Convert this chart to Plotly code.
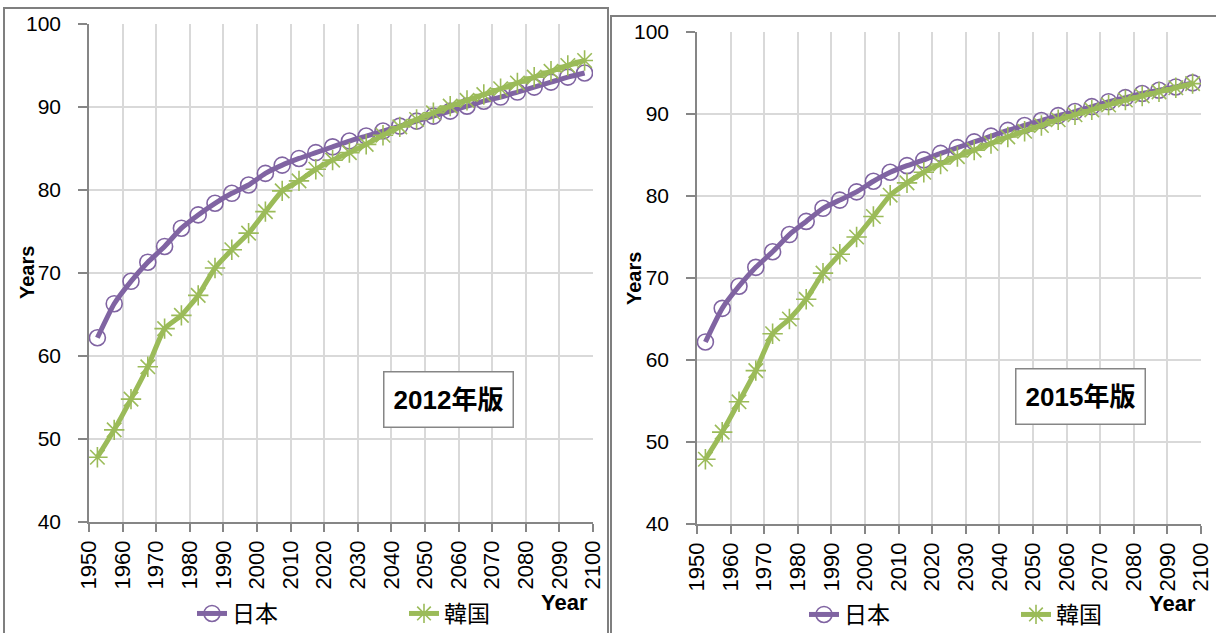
import plotly.graph_objects as go

# Five-year period midpoints, 1950-55 through 2095-2100
years = [1952.5 + 5 * i for i in range(30)]

# Life expectancy at birth (years), 2012 revision
japan_2012 = [62.2, 66.3, 69.0, 71.3, 73.2, 75.4, 77.0, 78.4, 79.6, 80.6,
              82.0, 83.0, 83.8, 84.5, 85.2, 85.9, 86.5, 87.1, 87.7, 88.3,
              88.9, 89.5, 90.1, 90.7, 91.2, 91.8, 92.4, 93.0, 93.6, 94.1]
korea_2012 = [47.8, 51.1, 54.8, 58.7, 63.3, 64.9, 67.3, 70.6, 72.8, 74.8,
              77.4, 79.9, 81.1, 82.5, 83.6, 84.5, 85.5, 86.6, 87.6, 88.5,
              89.3, 90.1, 90.8, 91.5, 92.2, 92.9, 93.6, 94.3, 95.0, 95.6]

# Life expectancy at birth (years), 2015 revision
japan_2015 = [62.2, 66.3, 69.0, 71.3, 73.2, 75.3, 76.9, 78.5, 79.5, 80.5,
              81.8, 82.9, 83.7, 84.4, 85.2, 85.9, 86.6, 87.3, 88.0, 88.6,
              89.2, 89.8, 90.3, 90.9, 91.5, 92.0, 92.5, 92.9, 93.3, 93.8]
korea_2015 = [47.9, 51.2, 54.9, 58.7, 63.2, 65.0, 67.4, 70.6, 72.9, 75.0,
              77.5, 80.1, 81.6, 82.9, 83.9, 84.8, 85.6, 86.4, 87.2, 87.9,
              88.6, 89.3, 89.9, 90.5, 91.1, 91.7, 92.2, 92.7, 93.2, 93.7]

series_names = ["日本", "韓国"]
edition_labels = ["2012年版", "2015年版"]
x_ticks = list(range(1950, 2101, 10))
y_ticks = list(range(40, 101, 10))

W, H = 1216, 633
PURPLE = "#8064A2"
GREEN = "#9BBB59"
GRID = "#D9D9D9"
AXIS = "#868686"
FONT = "Liberation Sans, Arial, Noto Sans CJK JP, sans-serif"


def px_x(v):
    return v / W


def px_y(v):
    return 1 - v / H


fig = go.Figure()

panels = [
    dict(xa="x", ya="y", legend="legend", jp=japan_2012, kr=korea_2012),
    dict(xa="x2", ya="y2", legend="legend2", jp=japan_2015, kr=korea_2015),
]

for p in panels:
    fig.add_trace(go.Scatter(
        x=years, y=p["jp"], name=series_names[0], mode="lines+markers",
        xaxis=p["xa"], yaxis=p["ya"], legend=p["legend"],
        line=dict(color=PURPLE, width=5, shape="spline", smoothing=0.5),
        marker=dict(symbol="circle-open", size=16, color=PURPLE,
                    line=dict(width=1.6, color=PURPLE)),
        hoverinfo="skip",
    ))
    fig.add_trace(go.Scatter(
        x=years, y=p["kr"], name=series_names[1], mode="lines+markers",
        xaxis=p["xa"], yaxis=p["ya"], legend=p["legend"],
        line=dict(color=GREEN, width=5, shape="spline", smoothing=0.5),
        marker=dict(symbol="asterisk-open", size=17, color=GREEN,
                    line=dict(width=1.6, color=GREEN)),
        hoverinfo="skip",
    ))

xaxis_common = dict(
    range=[1950, 2100], tickvals=x_ticks, tickangle=-90,
    showgrid=True, gridcolor=GRID, gridwidth=2,
    showline=True, linecolor=AXIS, linewidth=1.5,
    ticks="outside", ticklen=8, tickcolor=AXIS, tickwidth=1.5,
    tickfont=dict(family=FONT, size=22, color="#000000"),
    zeroline=False, fixedrange=True, automargin=False,
)
yaxis_common = dict(
    range=[40, 100], tickvals=y_ticks,
    showgrid=True, gridcolor=GRID, gridwidth=2,
    showline=True, linecolor=AXIS, linewidth=1.5,
    ticks="outside", ticklen=9, tickcolor=AXIS, tickwidth=1.5,
    tickfont=dict(family=FONT, size=21, color="#000000"),
    ticklabelstandoff=13,
    zeroline=False, fixedrange=True, automargin=False,
)

legend_common = dict(
    orientation="h", yanchor="bottom", xanchor="left",
    entrywidth=167, entrywidthmode="pixels",
    font=dict(family=FONT, size=23, color="#000000"),
    bgcolor="rgba(0,0,0,0)", borderwidth=0, itemclick=False,
)

annotations = []
for text, cx, cy in [(edition_labels[0], 448, 399), (edition_labels[1], 1080, 396)]:
    annotations.append(dict(
        text=f"<b>{text}</b>", xref="paper", yref="paper",
        x=px_x(cx), y=px_y(cy), xanchor="center", yanchor="middle",
        showarrow=False, font=dict(family=FONT, size=26, color="#000000"),
        bgcolor="#FFFFFF", bordercolor=AXIS, borderwidth=1.5,
        borderpad=7, width=114, height=40,
    ))
for cx, cy in [(27, 273), (634, 279)]:
    annotations.append(dict(
        text="<b>Years</b>", xref="paper", yref="paper",
        x=px_x(cx), y=px_y(cy), xanchor="center", yanchor="middle",
        textangle=-90, showarrow=False,
        font=dict(family=FONT, size=20, color="#000000"),
    ))
for cx, cy in [(564, 602), (1172, 603)]:
    annotations.append(dict(
        text="<b>Year</b>", xref="paper", yref="paper",
        x=px_x(cx), y=px_y(cy), xanchor="center", yanchor="middle",
        showarrow=False, font=dict(family=FONT, size=22, color="#000000"),
    ))

frame = dict(type="rect", xref="paper", yref="paper",
             line=dict(color="#7F7F7F", width=2), fillcolor="rgba(0,0,0,0)",
             layer="below")
shapes = [
    dict(frame, x0=px_x(4), x1=px_x(608), y0=-0.1, y1=px_y(8)),
    dict(frame, x0=px_x(611), x1=1.05, y0=-0.1, y1=px_y(16)),
]

fig.update_layout(
    width=W, height=H, autosize=False,
    margin=dict(l=0, r=0, t=0, b=0, pad=0, autoexpand=False),
    paper_bgcolor="#FFFFFF", plot_bgcolor="#FFFFFF",
    font=dict(family=FONT, color="#000000"),
    xaxis=dict(xaxis_common, domain=[px_x(89), px_x(593)], anchor="y"),
    yaxis=dict(yaxis_common, domain=[px_y(522), px_y(24)], anchor="x"),
    xaxis2=dict(xaxis_common, domain=[px_x(697), px_x(1201)], anchor="y2"),
    yaxis2=dict(yaxis_common, domain=[px_y(524), px_y(32)], anchor="x2"),
    legend=dict(legend_common, x=px_x(192), y=px_y(635)),
    legend2=dict(legend_common, x=px_x(804), y=px_y(636)),
    annotations=annotations,
    shapes=shapes,
    showlegend=True,
)

fig.write_html("out.html")
